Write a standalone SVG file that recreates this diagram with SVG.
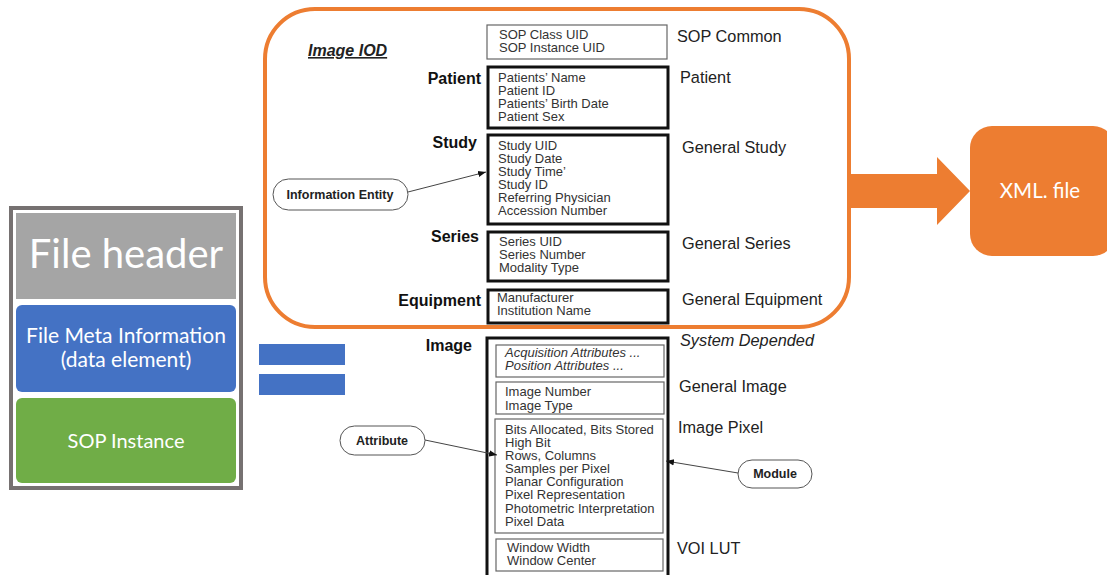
<svg xmlns="http://www.w3.org/2000/svg" width="1107" height="575" viewBox="0 0 1107 575">
<defs>
<style>
.bx{font-family:"Liberation Sans",Arial,sans-serif;font-size:13px;fill:#333}
.bxi{font-family:"Liberation Sans",Arial,sans-serif;font-size:13px;fill:#333;font-style:italic}
.lb{font-family:"Liberation Sans",Arial,sans-serif;font-size:16px;font-weight:bold;fill:#111;text-anchor:end}
.rl{font-family:"Liberation Sans",Arial,sans-serif;font-size:16.3px;fill:#222}
.pill{fill:#fff;stroke:#555;stroke-width:1}
.pt{font-family:"Liberation Sans",Arial,sans-serif;font-size:12.5px;font-weight:bold;fill:#222;text-anchor:middle}
.thick{fill:#fff;stroke:#111;stroke-width:3}
.thin{fill:#fff;stroke:#666;stroke-width:1.2}
.wt{font-family:Lato,"Open Sans",sans-serif;fill:#fff;text-anchor:middle}
.conn{stroke:#444;stroke-width:1;fill:none}
</style>
<marker id="ah" viewBox="0 0 10 10" refX="10" refY="5" markerWidth="8" markerHeight="8" orient="auto" markerUnits="userSpaceOnUse">
<path d="M0,1 L10,5 L0,9 z" fill="#111"/>
</marker>
</defs>

<!-- Left file stack -->
<g id="file-stack">
<rect x="11" y="208" width="230" height="280" fill="#fff" stroke="#767171" stroke-width="4"/>
<rect x="16" y="213" width="220" height="86" fill="#A5A5A5"/>
<text class="wt" x="126" y="268" font-size="40">File header</text>
<rect x="16" y="305" width="220" height="87" rx="6" fill="#4472C4"/>
<text class="wt" x="126" y="343" font-size="21">File Meta Information</text>
<text class="wt" x="126" y="367" font-size="21">(data element)</text>
<rect x="16" y="398" width="220" height="85" rx="6" fill="#70AD47"/>
<text class="wt" x="126" y="448" font-size="20">SOP Instance</text>
</g>

<g id="equals">
<rect x="259" y="344" width="86" height="21" fill="#4472C4"/>
<rect x="259" y="374" width="86" height="21" fill="#4472C4"/>
</g>

<!-- Orange IOD frame -->
<g id="iod-frame">
<rect x="265" y="9" width="584" height="318" rx="50" ry="50" fill="none" stroke="#ED7D31" stroke-width="4"/>
</g>

<g id="block-arrow">
<path d="M851,174 L937,174 L937,157 L970,191 L937,225 L937,208 L851,208 z" fill="#ED7D31"/>
</g>

<g id="xml-file">
<rect x="970" y="126" width="145" height="130" rx="22" fill="#ED7D31"/>
<text class="wt" x="1040" y="198" font-size="20.5" font-family="Open Sans,Lato,sans-serif">XML. file</text>
</g>

<text x="308" y="56" font-family="Liberation Sans,Arial,sans-serif" font-size="16" font-weight="bold" font-style="italic" fill="#222" text-decoration="underline">Image IOD</text>

<!-- SOP common -->
<g id="sop-common">
<rect class="thin" x="487" y="25" width="180" height="34"/>
<text class="bx" x="499" y="39">SOP Class UID</text>
<text class="bx" x="499" y="52">SOP Instance UID</text>
<text class="rl" x="677" y="42">SOP Common</text>
</g>

<g id="patient">
<text class="lb" x="481" y="84">Patient</text>
<rect class="thick" x="488" y="67" width="180" height="61"/>
<text class="bx" x="498" y="82">Patients’ Name</text>
<text class="bx" x="498" y="95">Patient ID</text>
<text class="bx" x="498" y="108">Patients’ Birth Date</text>
<text class="bx" x="498" y="121">Patient Sex</text>
<text class="rl" x="680" y="83">Patient</text>
</g>

<g id="study">
<text class="lb" x="477" y="148">Study</text>
<rect class="thick" x="488" y="135" width="180" height="89"/>
<text class="bx" x="498" y="150">Study UID</text>
<text class="bx" x="498" y="163">Study Date</text>
<text class="bx" x="498" y="176">Study Time’</text>
<text class="bx" x="498" y="189">Study ID</text>
<text class="bx" x="498" y="202">Referring Physician</text>
<text class="bx" x="498" y="215">Accession Number</text>
<text class="rl" x="682" y="153">General Study</text>
</g>

<g id="series">
<text class="lb" x="479" y="242">Series</text>
<rect class="thick" x="488" y="232" width="180" height="49"/>
<text class="bx" x="499" y="246">Series UID</text>
<text class="bx" x="499" y="259">Series Number</text>
<text class="bx" x="499" y="272">Modality Type</text>
<text class="rl" x="682" y="249">General Series</text>
</g>

<g id="equipment">
<text class="lb" x="481" y="306">Equipment</text>
<rect class="thick" x="488" y="290" width="180" height="33"/>
<text class="bx" x="497" y="302">Manufacturer</text>
<text class="bx" x="497" y="315">Institution Name</text>
<text class="rl" x="682" y="305">General Equipment</text>
</g>

<g id="image">
<text class="lb" x="472" y="351">Image</text>
<rect class="thick" x="487" y="338" width="181" height="245"/>
<rect class="thin" x="496" y="345" width="168" height="32"/>
<text class="bxi" x="505" y="357">Acquisition Attributes ...</text>
<text class="bxi" x="505" y="370">Position Attributes ...</text>
<text class="rl" x="680" y="346" font-style="italic">System Depended</text>
<rect class="thin" x="496" y="382" width="168" height="32"/>
<text class="bx" x="505" y="396">Image Number</text>
<text class="bx" x="505" y="410">Image Type</text>
<text class="rl" x="679" y="392">General Image</text>
<rect class="thin" x="495" y="419" width="168" height="114"/>
<text class="bx" x="505" y="434">Bits Allocated, Bits Stored</text>
<text class="bx" x="505" y="447">High Bit</text>
<text class="bx" x="505" y="460">Rows, Columns</text>
<text class="bx" x="505" y="473">Samples per Pixel</text>
<text class="bx" x="505" y="486">Planar Configuration</text>
<text class="bx" x="505" y="499">Pixel Representation</text>
<text class="bx" x="505" y="513">Photometric Interpretation</text>
<text class="bx" x="505" y="526">Pixel Data</text>
<text class="rl" x="678" y="433">Image Pixel</text>
<rect class="thin" x="496" y="539" width="167" height="32"/>
<text class="bx" x="507" y="552">Window Width</text>
<text class="bx" x="507" y="565">Window Center</text>
<text class="rl" x="677" y="554">VOI LUT</text>
</g>

<g id="information-entity">
<rect class="pill" x="273" y="179" width="135" height="31" rx="15.5"/>
<text class="pt" x="340" y="199">Information Entity</text>
</g>
<g id="attribute">
<rect class="pill" x="340" y="426" width="85" height="29" rx="14.5"/>
<text class="pt" x="382" y="445">Attribute</text>
</g>
<g id="module">
<rect class="pill" x="738" y="460" width="74" height="28" rx="14"/>
<text class="pt" x="775" y="478">Module</text>
</g>

<g id="connectors">
<path class="conn" d="M408,192 L486,172" marker-end="url(#ah)"/>
<path class="conn" d="M425,440 L497,455" marker-end="url(#ah)"/>
<path class="conn" d="M738,473 L666,461" marker-end="url(#ah)"/>
</g>
</svg>
